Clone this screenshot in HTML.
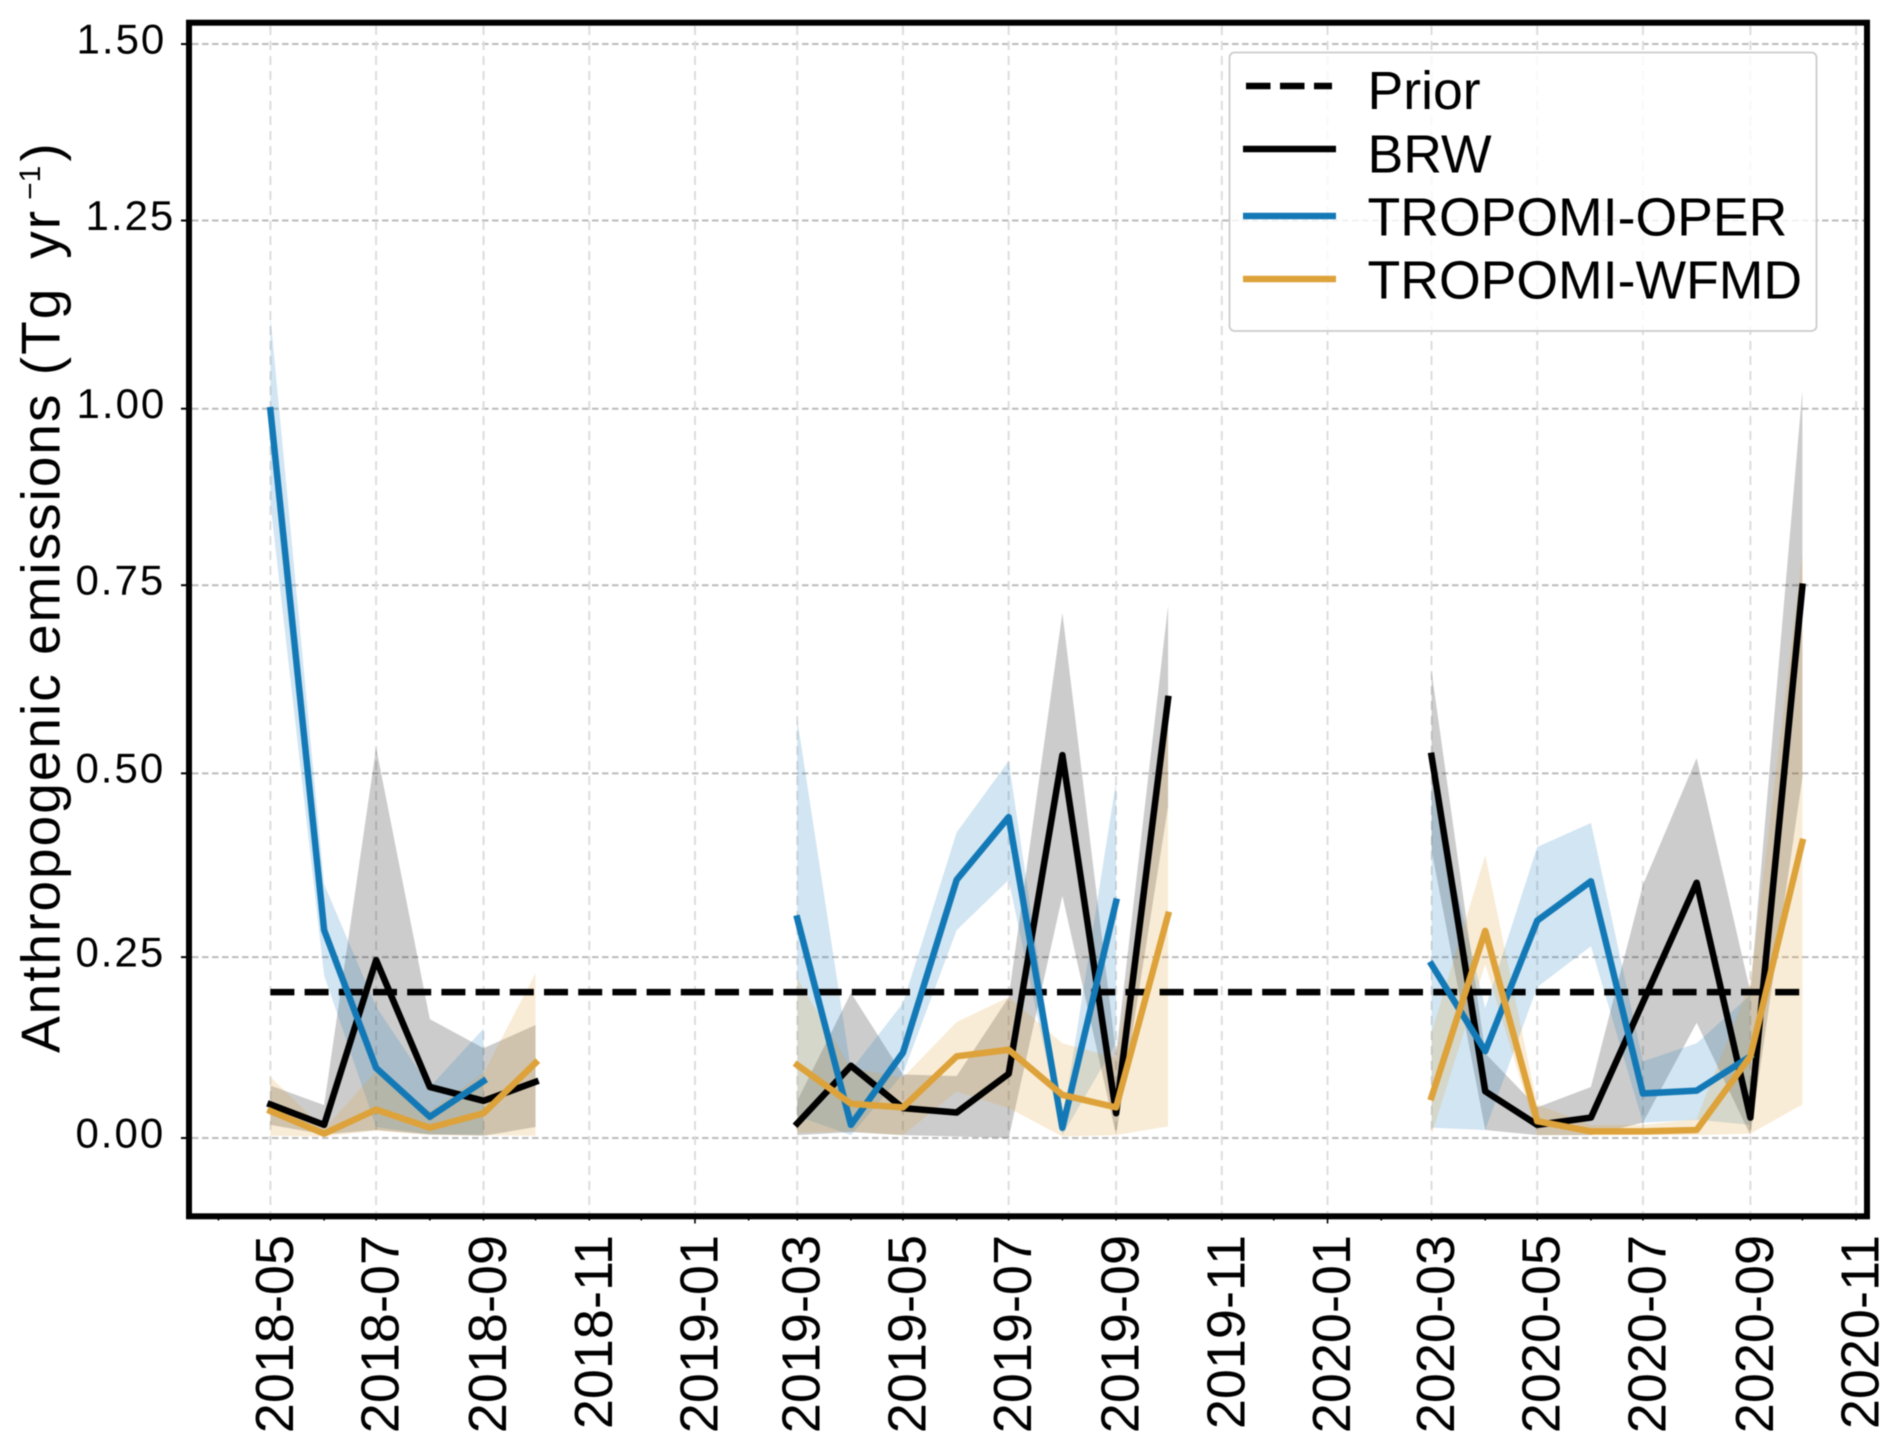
<!DOCTYPE html>
<html lang="en">
<head>
<meta charset="utf-8">
<title>Anthropogenic emissions</title>
<style>
html,body{margin:0;padding:0;background:#fff;width:1892px;height:1450px;overflow:hidden}
svg{display:block;filter:blur(.6px)}
text{font-family:"Liberation Sans",Arial,sans-serif;fill:#000;white-space:pre}
</style>
</head>
<body>
<svg id="chart" xmlns="http://www.w3.org/2000/svg" width="1892" height="1450" viewBox="0 0 1892 1450">
  <rect x="0" y="0" width="1892" height="1450" fill="#fff"/>
  <g id="grid"></g>
  <g id="bands"></g>
  <g id="lines"></g>
  <rect x="189" y="22.7" width="1678" height="1193.6" fill="none" stroke="#000" stroke-width="6"/>
  <g id="ticks"></g>
  <text transform="translate(59.4 1053) rotate(-90)" font-size="55" letter-spacing="2">Anthropogenic emissions (Tg<tspan dx="28">yr</tspan><tspan font-size="30" letter-spacing="0" dx="9" dy="-19.5">−1</tspan><tspan dx="4" dy="19.5">)</tspan></text>
  <g>
    <rect x="1229.5" y="52.5" width="587" height="278.5" rx="5" fill="#fff" fill-opacity=".8" stroke="#ccc" stroke-width="1.8"/>
    <line x1="1246" x2="1332" y1="86" y2="86" stroke="#000" stroke-width="6.5" stroke-dasharray="24.5 9.5"/>
    <text x="1367.5" y="109" font-size="53.6">Prior</text>
    <line x1="1243" x2="1336" y1="149" y2="149" stroke="#000" stroke-width="6.5"/>
    <text x="1367.5" y="172.7" font-size="53.6">BRW</text>
    <line x1="1243" x2="1336" y1="216" y2="216" stroke="#1379b6" stroke-width="6.5"/>
    <text x="1367.5" y="235.7" font-size="53.6">TROPOMI-OPER</text>
    <line x1="1243" x2="1336" y1="279" y2="279" stroke="#dda23a" stroke-width="6.5"/>
    <text x="1367.5" y="298.7" font-size="53.6">TROPOMI-WFMD</text>
  </g>
</svg>
<script>
// ---- chart data ----
const months = ['2018-05','2018-06','2018-07','2018-08','2018-09','2018-10',
  '2019-03','2019-04','2019-05','2019-06','2019-07','2019-08','2019-09','2019-10',
  '2020-03','2020-04','2020-05','2020-06','2020-07','2020-08','2020-09','2020-10'];
const brwMean = [.046,.018,.244,.070,.051,.077, .020,.099,.041,.035,.088,.525,.034,.602, .524,.064,.018,.028,.186,.350,.028,.756];
const brwHigh = [.072,.045,.535,.163,.123,.155, .051,.199,.087,.085,.193,.720,.115,.730, .640,.116,.042,.070,.347,.521,.200,1.025];
const brwLow  = [.018,.005,.011,.005,.003,.015, .004,.008,.004,.002,.000,.332,.004,.455, .395,.011,.004,.004,.021,.158,.004,.494];
const operMean = [.998,.285,.096,.029,.078,null, .301,.018,.117,.354,.440,.014,.324,null, .238,.119,.298,.352,.061,.065,.112,null];
const operHigh = [1.126,.348,.180,.070,.150,null, .574,.093,.185,.419,.517,.020,.489,null, .483,.178,.399,.432,.105,.130,.196,null];
const operLow  = [.870,.223,.015,.005,.005,null, .030,.004,.088,.285,.354,.004,.130,null, .014,.011,.207,.263,.021,.025,.018,null];
const wfmdMean = [.037,.006,.039,.014,.034,.103, .100,.047,.042,.112,.121,.059,.042,.306, .056,.284,.023,.009,.009,.011,.112,.406];
const wfmdHigh = [.084,.012,.092,.037,.089,.226, .219,.096,.083,.159,.193,.130,.110,.563, .144,.388,.046,.018,.018,.026,.214,.801];
const wfmdLow  = [.003,.002,.010,.004,.004,.003, .007,.009,.004,.064,.041,.002,.004,.016, .004,.238,.004,.004,.004,.004,.006,.046];
const priorMonths = ['2018-05','2020-10'];
const priorValues = [.2,.2];
const yTickValues = [0,.248,.5,.758,1,1.258,1.5];
const yTickLabels = ['0.00','0.25','0.50','0.75','1.00','1.25','1.50'];
const xTickLabels = ['2018-05','2018-07','2018-09','2018-11','2019-01','2019-03','2019-05','2019-07','2019-09','2019-11','2020-01','2020-03','2020-05','2020-07','2020-09','2020-11'];

// ---- axis functions ----
const NS = 'http://www.w3.org/2000/svg';
function dayOf(m){ const p = m.split('-'); return Date.UTC(+p[0], +p[1]-1, 1) / 86400000; }
const day0 = dayOf('2018-05');
function xScale(m){ return 270.4 + (dayOf(m) - day0) * 1.733; }
function yScale(v){ return 1138 - v * 729.3; }
function make(tag, attrs, parent){
  const el = document.createElementNS(NS, tag);
  for (const k in attrs) el.setAttribute(k, attrs[k]);
  parent.appendChild(el);
  return el;
}
function yLabelRight(label){
  if (label === '1.25') return 175.3;
  return label.charAt(0) === '1' ? 166.3 : 165.2;
}

const gridG = document.getElementById('grid');
const bandsG = document.getElementById('bands');
const linesG = document.getElementById('lines');
const ticksG = document.getElementById('ticks');

// grid + y ticks
yTickValues.forEach(function(v, i){
  const y = yScale(v);
  const g = make('line', {x1:192, x2:1864, y1:y, y2:y, stroke:'#bbb', 'stroke-width':2, 'stroke-dasharray':'6.5 3.5'}, gridG);
  
  
  const t = make('line', {x1:181, x2:187, y1:y, y2:y, stroke:'#000', 'stroke-width':2}, ticksG);
  
  
  const lab = make('text', {x: yLabelRight(yTickLabels[i]), y: y + 9.3, 'font-size':42, 'letter-spacing':2, 'text-anchor':'end'}, ticksG);
  lab.textContent = yTickLabels[i];
  
  
});

// grid + x tick labels
xTickLabels.forEach(function(m){
  const x = xScale(m);
  const g = make('line', {x1:x, x2:x, y1:26, y2:1213, stroke:'#ddd', 'stroke-width':2, 'stroke-dasharray':'9 6'}, gridG);
  
  
  const lab = make('text', {transform:'translate(' + (x + 22.5) + ' 1235) rotate(-90)', 'font-size':54, 'text-anchor':'end'}, ticksG);
  lab.textContent = m;
  
  
});

// monthly tick marks
for (let yr = 2018, mo = 4; yr < 2020 || mo <= 11; ) {
  const key = yr + '-' + String(mo).padStart(2, '0');
  const x = xScale(key);
  const t = make('line', {x1:x, x2:x, y1:1218, y2: mo === 1 ? 1223.5 : 1220.5, stroke:'#000', 'stroke-width':1.6}, ticksG);
  
  
  mo++;
  if (mo > 12) { mo = 1; yr++; }
}

// split a series into runs of consecutive months with data
function runs(values){
  const out = [];
  let cur = [];
  months.forEach(function(m, i){
    const gap = i > 0 && dayOf(m) - dayOf(months[i-1]) > 40;
    if (values[i] === null || gap) { if (cur.length) out.push(cur); cur = []; }
    if (values[i] !== null) cur.push(i);
  });
  if (cur.length) out.push(cur);
  return out;
}

function drawBand(high, low, color){
  runs(high).forEach(function(run){
    const up = run.map(function(i){ return xScale(months[i]) + ',' + yScale(high[i]); });
    const down = run.slice().reverse().map(function(i){ return xScale(months[i]) + ',' + yScale(low[i]); });
    const p = make('polygon', {points: up.concat(down).join(' '), fill: color, 'fill-opacity': .2}, bandsG);
    
    
  });
}
function drawLine(values, color){
  runs(values).forEach(function(run){
    const pts = run.map(function(i){ return xScale(months[i]) + ',' + yScale(values[i]); });
    const l = make('polyline', {points: pts.join(' '), fill:'none', stroke: color, 'stroke-width':6.5, 'stroke-linejoin':'round', 'stroke-linecap':'square'}, linesG);
    
    
  });
}

drawBand(brwHigh, brwLow, '#000');
drawBand(operHigh, operLow, '#1f7fbd');
drawBand(wfmdHigh, wfmdLow, '#e0a030');

const priorPts = priorMonths.map(function(m, i){ return xScale(m) + ',' + yScale(priorValues[i]); });
const priorLine = make('polyline', {points: priorPts.join(' '), fill:'none', stroke:'#000', 'stroke-width':6.5, 'stroke-dasharray':'24 10.2'}, linesG);



drawLine(brwMean, '#000');
drawLine(operMean, '#1379b6');
drawLine(wfmdMean, '#dda23a');
</script>
</body>
</html>
